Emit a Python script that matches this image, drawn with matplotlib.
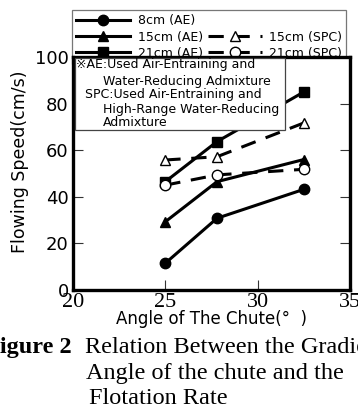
import matplotlib
matplotlib.use("Agg")
import matplotlib.pyplot as plt
from matplotlib.lines import Line2D
from matplotlib.patches import Rectangle

# ---- data ----
angles = [25, 27.8, 32.5]
ae_8 = [11.5, 30.8, 43.2]
ae_15 = [29.3, 46.5, 56.0]
ae_21 = [46.5, 63.7, 85.0]
spc_15 = [55.8, 57.2, 71.7]
spc_21 = [45.0, 49.4, 51.8]

series_labels = ["8cm (AE)", "15cm (AE)", "21cm (AE)", "15cm (SPC)", "21cm (SPC)"]
x_ticks = [20, 25, 30, 35]
y_ticks = [0, 20, 40, 60, 80, 100]
xlabel = "Angle of The Chute(°  )"
ylabel = "Flowing Speed(cm/s)"
note_lines = ["※AE:Used Air-Entraining and",
              "Water-Reducing Admixture",
              "SPC:Used Air-Entraining and",
              "High-Range Water-Reducing",
              "Admixture"]
caption_head = "Figure 2"
caption_lines = ["Relation Between the Gradient",
                 "Angle of the chute and the",
                 "Flotation Rate"]

W, H = 358, 408
fig = plt.figure(figsize=(W / 100, H / 100), dpi=100)
ax = fig.add_axes([73 / W, 1 - 290 / H, 277 / W, 233 / H])
ax.set_zorder(2)

lw = 2.2
ms = 7.5
dash = (0, (5, 3.5))
ax.plot(angles, ae_8, color="black", lw=lw, marker="o", ms=ms, mfc="black", zorder=3)
ax.plot(angles, ae_15, color="black", lw=lw, marker="^", ms=ms, mfc="black", zorder=3)
ax.plot(angles, ae_21, color="black", lw=lw, marker="s", ms=ms, mfc="black", zorder=3)
ax.plot(angles, spc_15, color="black", lw=lw, ls=dash, marker="^", ms=ms,
        mfc="white", mew=1.0, zorder=3)
ax.plot(angles, spc_21, color="black", lw=lw, ls=dash, marker="o", ms=ms,
        mfc="white", mew=1.0, zorder=3)

ax.set_xlim(20, 35)
ax.set_ylim(0, 100)
ax.set_xticks(x_ticks)
ax.set_yticks(y_ticks)
ax.set_xticklabels([str(v) for v in x_ticks], family="Liberation Serif", fontsize=16)
ax.set_yticklabels([str(v) for v in y_ticks], family="DejaVu Sans", fontsize=13)
ax.tick_params(direction="in", length=7, width=0.8, color="#333333",
               top=True, right=True, pad=3)
ax.tick_params(axis="x", pad=2)
for s in ax.spines.values():
    s.set_linewidth(2.4)

ax.set_xlabel(xlabel, fontsize=12, family="DejaVu Sans", labelpad=-1)
fig.text(20 / W, 1 - 162 / H, ylabel, rotation=90, fontsize=12.5,
         ha="center", va="center", family="DejaVu Sans")

# note box
ax.add_patch(Rectangle((0.007, 0.687), 0.758, 0.309, transform=ax.transAxes,
                       facecolor="white", edgecolor="#444444", lw=0.9, zorder=4))
note_x = [0.011, 0.108, 0.043, 0.108, 0.108]
note_y = [0.966, 0.895, 0.837, 0.775, 0.717]
for t, xx, yy in zip(note_lines, note_x, note_y):
    ax.text(xx, yy, t, transform=ax.transAxes, fontsize=9, va="center", ha="left",
            family=["DejaVu Sans", "Noto Sans CJK JP"], zorder=5)

# legend (figure level, behind axes)
handles = [
    Line2D([], [], color="black", lw=lw, marker="o", ms=ms),
    Line2D([], [], color="black", lw=lw, marker="^", ms=ms),
    Line2D([], [], color="black", lw=lw, marker="s", ms=ms),
    Line2D([], [], color="none", lw=0),
    Line2D([], [], color="black", lw=lw, ls=dash, marker="^", ms=ms, mfc="white", mew=1.0),
    Line2D([], [], color="black", lw=lw, ls=dash, marker="o", ms=ms, mfc="white", mew=1.0),
]
labels = [series_labels[0], series_labels[1], series_labels[2], "",
          series_labels[3], series_labels[4]]
leg = fig.legend(handles, labels, loc="upper left", bbox_to_anchor=(72 / W, 1 - 10 / H),
                 ncol=2, fontsize=9, frameon=True, fancybox=False, edgecolor="#555555",
                 handlelength=4.3, handletextpad=0.6, columnspacing=0.4,
                 labelspacing=0.25, borderpad=0.35, borderaxespad=0)
leg.get_frame().set_linewidth(0.9)
leg.set_zorder(1)

# caption
fig.text(72 / W, 1 - 353 / H, caption_head, fontsize=17.5, weight="bold",
         family="Liberation Serif", ha="right", va="baseline")
cap_x = [85, 86, 89]
cap_y = [353, 379, 404]
for t, xx, yy in zip(caption_lines, cap_x, cap_y):
    fig.text(xx / W, 1 - yy / H, t, fontsize=17.5, family="Liberation Serif",
             ha="left", va="baseline")

fig.savefig("out.png", dpi=100)
